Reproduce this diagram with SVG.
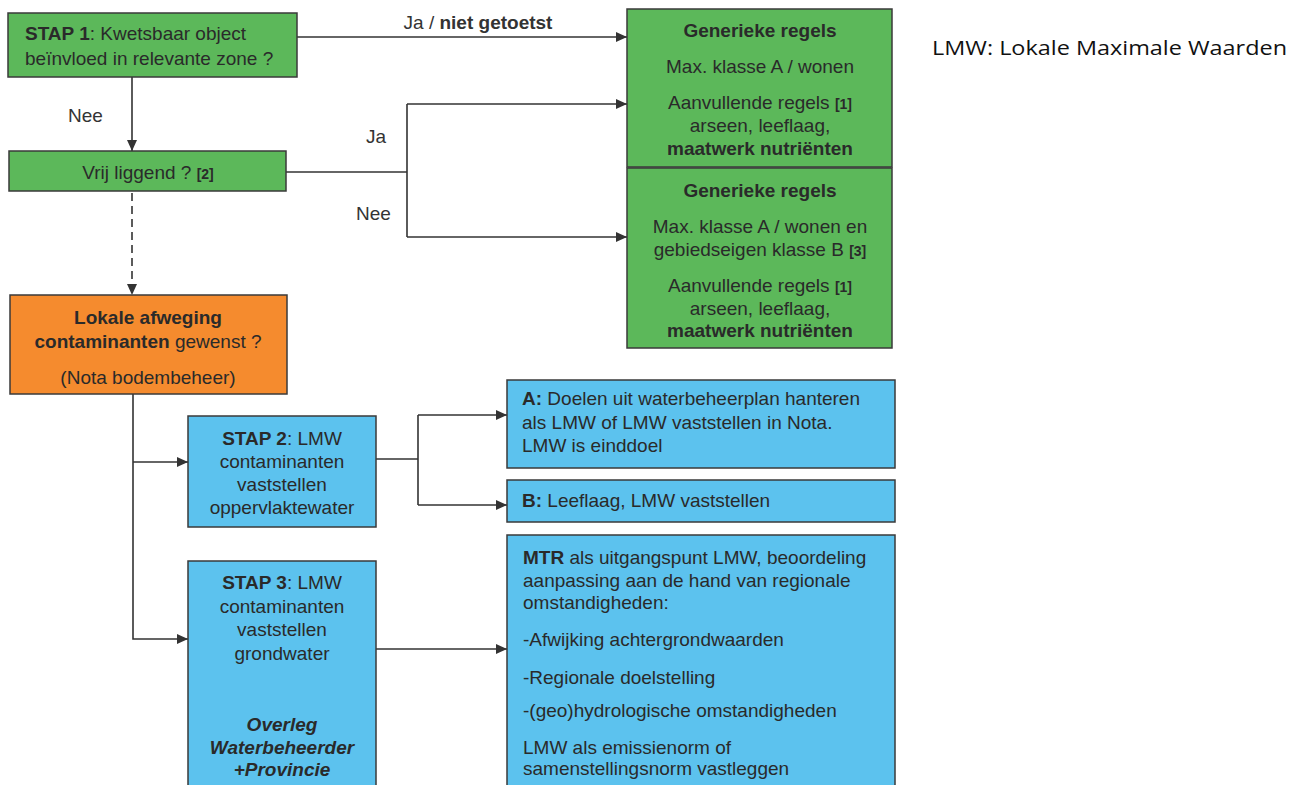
<svg xmlns="http://www.w3.org/2000/svg" width="1303" height="785" viewBox="0 0 1303 785">
  <style>
    .t { font-family: "Liberation Sans", Arial, sans-serif; font-size: 19px; fill: #2a2a2a; }
    .c { text-anchor: middle; }
    .b { font-weight: bold; }
    .ref { font-weight: bold; font-size: 14px; }
    .i { font-style: italic; font-weight: bold; }
    .lab { font-family: "Liberation Sans", Arial, sans-serif; font-size: 19px; fill: #333; }
    .green { fill: #5cb85a; stroke: #3a3a3a; stroke-width: 1.5; }
    .orange { fill: #f58b2e; stroke: #3a3a3a; stroke-width: 1.5; }
    .blue { fill: #5cc2ee; stroke: #3a3a3a; stroke-width: 1.5; }
    .ln { fill: none; stroke: #333; stroke-width: 1.6; }
    .dash { stroke-dasharray: 8 5; }
    .legend { font-family: "Open Sans", "Noto Sans", sans-serif; font-size: 20px; fill: #111; }
  </style>
  <defs>
    <marker id="arr" markerUnits="userSpaceOnUse" markerWidth="12" markerHeight="10" refX="11" refY="5" orient="auto">
      <path d="M0,0 L11,5 L0,10 z" fill="#333"/>
    </marker>
  </defs>

  <g id="connectors">
    <path class="ln" d="M297,37 H627" marker-end="url(#arr)"/>
    <path class="ln" d="M132,77 V151" marker-end="url(#arr)"/>
    <path class="ln" d="M286,172 H407"/>
    <path class="ln" d="M407,104 V237"/>
    <path class="ln" d="M407,104 H627" marker-end="url(#arr)"/>
    <path class="ln" d="M407,237 H627" marker-end="url(#arr)"/>
    <path class="ln dash" d="M132,193 V295" marker-end="url(#arr)"/>
    <path class="ln" d="M133,394 V639 H188" marker-end="url(#arr)"/>
    <path class="ln" d="M133,462 H188" marker-end="url(#arr)"/>
    <path class="ln" d="M376,459 H418"/>
    <path class="ln" d="M418,415 V505"/>
    <path class="ln" d="M418,415 H507" marker-end="url(#arr)"/>
    <path class="ln" d="M418,505 H507" marker-end="url(#arr)"/>
    <path class="ln" d="M376,649 H507" marker-end="url(#arr)"/>
    <text class="lab c" x="478" y="29">Ja / <tspan class="b">niet getoetst</tspan></text>
    <text class="lab" x="68" y="122">Nee</text>
    <text class="lab" x="366" y="143">Ja</text>
    <text class="lab" x="356" y="220">Nee</text>
  </g>

  <g id="stap1">
    <rect class="green" x="8" y="13" width="289" height="64"/>
    <text class="t" x="25" y="40"><tspan class="b">STAP 1</tspan>: Kwetsbaar object</text>
    <text class="t" x="25" y="65">beïnvloed in relevante zone ?</text>
  </g>

  <g id="vrij">
    <rect class="green" x="9" y="151" width="277" height="40"/>
    <text class="t c" x="148" y="179">Vrij liggend ? <tspan class="ref">[2]</tspan></text>
  </g>

  <g id="generiek1">
    <rect class="green" x="627" y="9" width="265" height="158"/>
    <text class="t c b" x="760" y="37">Generieke regels</text>
    <text class="t c" x="760" y="73">Max. klasse A / wonen</text>
    <text class="t c" x="760" y="109">Aanvullende regels <tspan class="ref">[1]</tspan></text>
    <text class="t c" x="760" y="132">arseen, leeflaag,</text>
    <text class="t c b" x="760" y="155">maatwerk nutriënten</text>
  </g>

  <g id="generiek2">
    <rect class="green" x="627" y="168" width="265" height="180"/>
    <text class="t c b" x="760" y="197">Generieke regels</text>
    <text class="t c" x="760" y="233">Max. klasse A / wonen en</text>
    <text class="t c" x="760" y="256">gebiedseigen klasse B <tspan class="ref">[3]</tspan></text>
    <text class="t c" x="760" y="292">Aanvullende regels <tspan class="ref">[1]</tspan></text>
    <text class="t c" x="760" y="315">arseen, leeflaag,</text>
    <text class="t c b" x="760" y="337">maatwerk nutriënten</text>
  </g>

  <g id="lokaal">
    <rect class="orange" x="10" y="295" width="277" height="99"/>
    <text class="t c b" x="148" y="324">Lokale afweging</text>
    <text class="t c" x="148" y="348"><tspan class="b">contaminanten</tspan> gewenst ?</text>
    <text class="t c" x="148" y="384">(Nota bodembeheer)</text>
  </g>

  <g id="stap2">
    <rect class="blue" x="188" y="416" width="188" height="111"/>
    <text class="t c" x="282" y="445"><tspan class="b">STAP 2</tspan>: LMW</text>
    <text class="t c" x="282" y="468">contaminanten</text>
    <text class="t c" x="282" y="491">vaststellen</text>
    <text class="t c" x="282" y="514">oppervlaktewater</text>
  </g>

  <g id="optieA">
    <rect class="blue" x="507" y="380" width="388" height="88"/>
    <text class="t" x="522" y="405"><tspan class="b">A:</tspan> Doelen uit waterbeheerplan hanteren</text>
    <text class="t" x="522" y="429">als LMW of LMW vaststellen in Nota.</text>
    <text class="t" x="522" y="452">LMW is einddoel</text>
  </g>

  <g id="optieB">
    <rect class="blue" x="507" y="480" width="388" height="42"/>
    <text class="t" x="522" y="507"><tspan class="b">B:</tspan> Leeflaag, LMW vaststellen</text>
  </g>

  <g id="stap3">
    <rect class="blue" x="188" y="561" width="188" height="240"/>
    <text class="t c" x="282" y="589"><tspan class="b">STAP 3</tspan>: LMW</text>
    <text class="t c" x="282" y="613">contaminanten</text>
    <text class="t c" x="282" y="636">vaststellen</text>
    <text class="t c" x="282" y="660">grondwater</text>
    <text class="t c i" x="282" y="731">Overleg</text>
    <text class="t c i" x="282" y="754">Waterbeheerder</text>
    <text class="t c i" x="282" y="776">+Provincie</text>
  </g>

  <g id="mtr">
    <rect class="blue" x="507" y="535" width="388" height="270"/>
    <text class="t" x="523" y="564"><tspan class="b">MTR</tspan> als uitgangspunt LMW, beoordeling</text>
    <text class="t" x="523" y="587">aanpassing aan de hand van regionale</text>
    <text class="t" x="523" y="609">omstandigheden:</text>
    <text class="t" x="523" y="646">-Afwijking achtergrondwaarden</text>
    <text class="t" x="523" y="684">-Regionale doelstelling</text>
    <text class="t" x="523" y="717">-(geo)hydrologische omstandigheden</text>
    <text class="t" x="523" y="754">LMW als emissienorm of</text>
    <text class="t" x="523" y="775">samenstellingsnorm vastleggen</text>
  </g>

  <g id="legend">
    <text class="legend" x="932" y="55" textLength="355" lengthAdjust="spacingAndGlyphs">LMW: Lokale Maximale Waarden</text>
  </g>
</svg>
